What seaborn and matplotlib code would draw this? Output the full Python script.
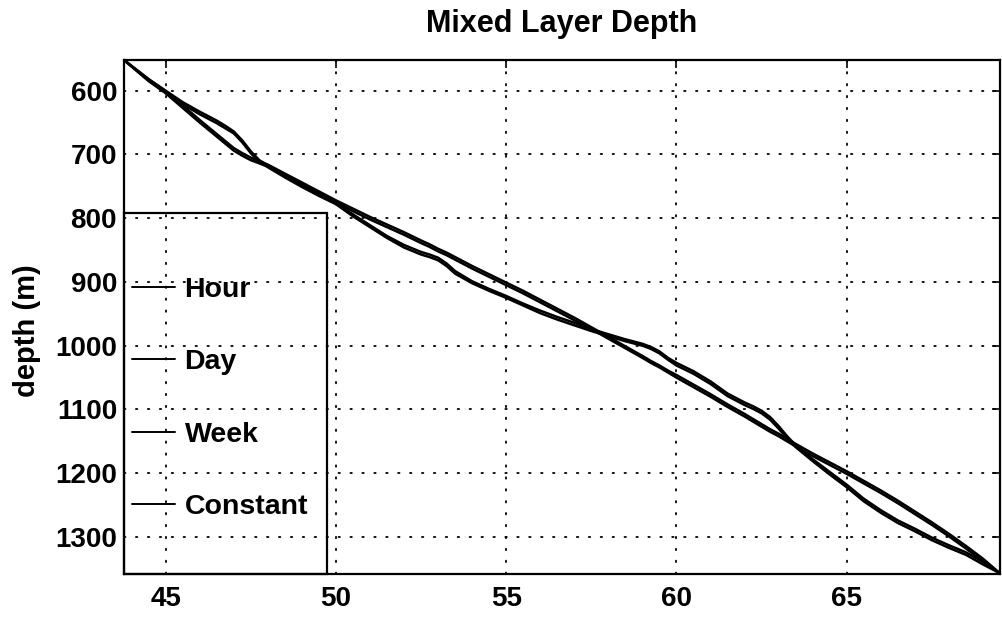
import matplotlib
matplotlib.use("Agg")
import matplotlib.pyplot as plt
import pandas as pd
import seaborn as sns
from matplotlib.patches import Rectangle

# Model time axis and mixed layer depth (m) for each forcing interval
time = [43.8, 44.5, 45.0, 45.5, 46.0, 46.5, 46.75, 47.0, 47.25, 47.5, 47.75, 48.0,
        48.5, 49.0, 49.5, 50.0, 50.5, 51.0, 51.5, 52.0, 52.5, 52.75, 53.0, 53.25,
        53.5, 54.0, 54.5, 55.0, 55.5, 56.0, 56.5, 57.0, 57.5, 58.0, 58.5, 59.0,
        59.25, 59.5, 59.75, 60.0, 60.5, 61.0, 61.5, 62.0, 62.25, 62.5, 62.75, 63.0,
        63.25, 63.5, 64.0, 64.5, 65.0, 65.5, 66.0, 66.5, 67.0, 67.5, 68.0, 68.5,
        69.0, 69.5]

hour = [553, 582, 600, 618, 633, 647, 655, 664, 678, 695, 709, 717,
        733, 748, 762, 776, 794, 811, 828, 842, 853, 857, 862, 871,
        883, 899, 911, 922, 934, 945, 955, 964, 974, 982, 990, 997,
        1002, 1009, 1019, 1027, 1040, 1056, 1075, 1089, 1095, 1102, 1112, 1126,
        1142, 1156, 1178, 1198, 1218, 1240, 1258, 1274, 1287, 1301, 1313, 1324,
        1339, 1357]

day = [553, 584, 603, 621, 637, 651, 659, 667, 681, 698, 712, 720,
       736, 751, 765, 778, 797, 814, 831, 846, 857, 861, 866, 875,
       887, 902, 914, 925, 937, 949, 959, 968, 977, 985, 993, 1000,
       1005, 1012, 1022, 1031, 1044, 1060, 1079, 1093, 1099, 1106, 1116, 1130,
       1145, 1159, 1181, 1202, 1222, 1244, 1262, 1278, 1291, 1305, 1317, 1328,
       1343, 1357]

week = [553, 585, 604, 627, 650, 672, 683, 694, 702, 709, 714, 719,
        733, 747, 761, 775, 789, 802, 814, 826, 839, 845, 852, 858,
        865, 879, 892, 905, 918, 932, 946, 960, 974, 989, 1004, 1019,
        1027, 1034, 1042, 1050, 1065, 1080, 1096, 1111, 1119, 1127, 1135, 1142,
        1150, 1158, 1173, 1187, 1201, 1216, 1231, 1247, 1264, 1281, 1299, 1318,
        1338, 1357]

constant = [553, 582, 601, 623, 646, 668, 679, 690, 698, 705, 711, 716,
            730, 744, 758, 772, 785, 798, 810, 822, 835, 841, 848, 854,
            861, 875, 888, 901, 914, 928, 942, 956, 971, 986, 1001, 1016,
            1024, 1031, 1039, 1046, 1061, 1076, 1092, 1107, 1115, 1123, 1131, 1138,
            1146, 1154, 1169, 1183, 1197, 1212, 1227, 1243, 1260, 1277, 1295, 1314,
            1334, 1357]

series_names = ["Hour", "Day", "Week", "Constant"]
x_ticks = [45, 50, 55, 60, 65]
y_ticks = [600, 700, 800, 900, 1000, 1100, 1200, 1300]

frames = []
for name, vals in zip(series_names, [hour, day, week, constant]):
    frames.append(pd.DataFrame({"time": time, "depth": vals, "series": name}))
df = pd.concat(frames, ignore_index=True)

sns.set_style("white")
plt.rcParams["font.family"] = ["Liberation Sans", "DejaVu Sans"]
plt.rcParams["text.color"] = "black"
plt.rcParams["axes.labelcolor"] = "black"
plt.rcParams["xtick.color"] = "black"
plt.rcParams["ytick.color"] = "black"

fig = plt.figure(figsize=(10.02, 6.22), dpi=100)
ax = fig.add_axes([0.1238, 0.0772, 0.8742, 0.8263])

sns.lineplot(data=df, x="time", y="depth", hue="series", hue_order=series_names,
             palette={n: "black" for n in series_names}, estimator=None,
             sort=False, linewidth=1.8, legend=False, ax=ax)
for ln in ax.get_lines():
    ln.set_solid_joinstyle("round")

ax.set_xlim(43.78, 69.5)
ax.set_ylim(1358, 552)
ax.set_xticks(x_ticks)
ax.set_yticks(y_ticks)
ax.set_xlabel("")
ax.set_ylabel("depth (m)", fontsize=21, fontweight="bold")
ax.yaxis.set_label_coords(-0.0947, 0.4728)
ax.set_title("Mixed Layer Depth", fontsize=22, fontweight="bold", pad=20)

ax.grid(True, color="black", linestyle=(0, (0.8, 5.8)), linewidth=1.3,
        dash_capstyle="round")
ax.set_axisbelow(True)
for s in ax.spines.values():
    s.set_color("black")
    s.set_linewidth(1.6)
ax.tick_params(axis="both", which="major", direction="in", length=6, width=1.2,
               labelsize=20, colors="black", top=True, right=True)
ax.tick_params(axis="x", pad=9)
ax.tick_params(axis="y", pad=5)
for lbl in ax.get_xticklabels() + ax.get_yticklabels():
    lbl.set_fontweight("bold")

# Legend: line handles with the labels, inside an open box at lower left
handles = ax.get_lines()[:4]
leg = ax.legend(handles, series_names, loc="upper left",
                bbox_to_anchor=(0.009, 0.578), frameon=False,
                prop={"size": 20.5, "weight": "bold"},
                handlelength=1.52, handletextpad=0.33, labelspacing=1.63,
                borderpad=0, borderaxespad=0)
for ln in leg.get_lines():
    ln.set_linewidth(1.4)
ax.add_patch(Rectangle((0, 0), 0.232, 0.702, transform=ax.transAxes,
                       fill=False, edgecolor="black", linewidth=1.6,
                       clip_on=False, zorder=5))

fig.savefig("out.png", dpi=100)
